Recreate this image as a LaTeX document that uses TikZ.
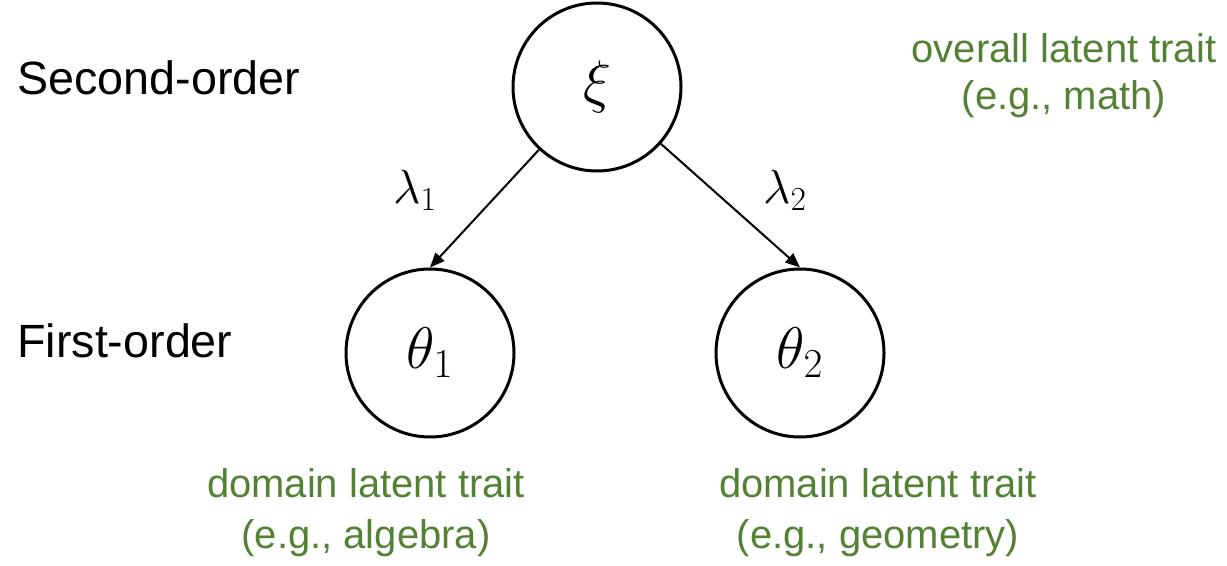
\RequirePackage{fix-cm}
\documentclass[tikz,border=0pt]{standalone}
\usepackage{fontspec}
\setsansfont{Liberation Sans}
\usetikzlibrary{arrows.meta}
\definecolor{trait}{RGB}{84,130,53}
\begin{document}
\begin{tikzpicture}[x=0.75pt,y=-0.75pt,
  latent/.style={circle,draw,line width=2.25pt,minimum size=126pt,inner sep=0pt,font=\fontsize{44}{50}\selectfont},
  level/.style={font=\sffamily\fontsize{35}{42}\selectfont,anchor=base west,inner sep=0pt},
  note/.style={font=\sffamily\fontsize{30}{36}\selectfont,text=trait,anchor=base,inner sep=0pt},
  load/.style={-{Triangle[length=11pt,width=9pt]},line width=1.5pt},
  coef/.style={font=\fontsize{36}{40}\selectfont,inner sep=0pt}]
\useasboundingbox (0,0) rectangle (1227,566);
\node[latent] (xi) at (597,87) {$\xi$};
\node[latent] (t1) at (430,353) {$\theta_1$};
\node[latent] (t2) at (800,353) {$\theta_2$};
\draw[load] (xi) -- (t1.north);
\draw[load] (xi) -- (t2.north);
\node[coef] (l1) at (415,190) {$\lambda_1$};
\node[coef] (l2) at (785,190) {$\lambda_2$};
\node[level] (so) at (17,95) {Second-order};
\node[level] (fo) at (17,358) {First-order};
\node[note] (n1a) at (1064,63) {overall latent trait};
\node[note] (n1b) at (1064,110) {(e.g., math)};
\node[note] (n2a) at (366,497) {domain latent trait};
\node[note] (n2b) at (366,548) {(e.g., algebra)};
\node[note] (n3a) at (878,497) {domain latent trait};
\node[note] (n3b) at (878,548) {(e.g., geometry)};
\end{tikzpicture}
\end{document}
